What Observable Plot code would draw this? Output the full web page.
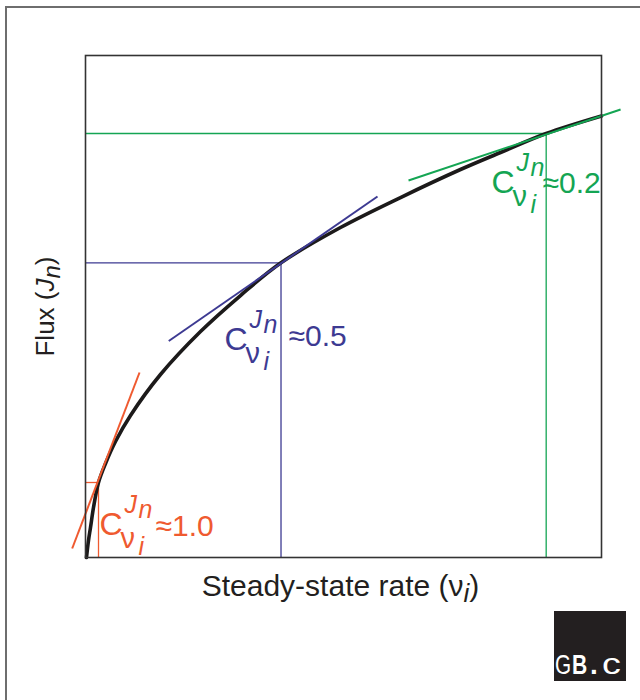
<!DOCTYPE html>
<html><head><meta charset="utf-8">
<script src="https://cdn.jsdelivr.net/npm/d3@7"></script>
<script src="https://cdn.jsdelivr.net/npm/@observablehq/plot@0.6"></script>
<style>
body{margin:0;background:#fff;}
#wrap{position:relative;width:640px;height:700px;overflow:hidden;font-family:"Liberation Sans",Arial,sans-serif;background:#fff;}
#chart{position:absolute;left:0;top:0;}
#border{position:absolute;left:5px;top:6px;width:700px;height:800px;border-left:2px solid #6e6e6e;border-top:2px solid #6e6e6e;pointer-events:none;}
#logo{position:absolute;left:554px;top:611px;width:72px;height:70px;background:#231f20;color:#fff;overflow:hidden;}
#logo span{position:absolute;bottom:2px;line-height:1;font-family:"Liberation Sans",Arial,sans-serif;white-space:nowrap;transform-origin:left bottom;}
</style></head>
<body>
<div id="wrap"><div id="chart"></div><div id="border"></div>
<div id="logo"><span style="left:1px;font-size:28px;transform:scaleX(0.74);">G</span><span style="left:18px;font-size:27px;font-weight:bold;transform:scaleX(0.78);">B</span><span style="left:36px;font-size:28px;font-weight:bold;">.</span><span style="left:48px;font-size:29px;transform:scaleX(1.3);">c</span></div></div>
<script>
// Flux curve J(v), in arbitrary units
const curveV = [0.19, 0.58, 0.97, 1.55, 2.52, 3.88, 5.81, 8.72, 14.53, 22.29, 30.04, 37.89, 49.42, 61.05, 72.67, 80.43, 89.28, 100];
const curveJ = [0, 3.39, 5.98, 9.96, 14.94, 18.73, 23.11, 28.29, 36.45, 45.02, 52.19, 58.71, 65.74, 71.71, 77.29, 80.68, 84.46, 87.95];

// Three operating points with their tangents and control coefficients
const seriesNames = ["low", "mid", "high"];
const pointV = [2.52, 37.89, 89.28];
const pointJ = [14.94, 58.71, 84.46];
const tangentV1 = [-2.58, 16.14, 62.6];
const tangentJ1 = [1.79, 43.13, 75.1];
const tangentV2 = [10.47, 56.59, 103.7];
const tangentJ2 = [36.85, 71.91, 89.24];
const controlValues = ["≈1.0", "≈0.5", "≈0.2"];
// annotation anchors (data units)
const labelV = [2.91, 27.13, 78.88];
const labelJ = [4.58, 41.43, 72.51];
const valueV = [13.57, 39.34, 88.57];
const valueJ = [4.38, 42.23, 72.51];

const xTitle = "Steady-state rate (νi)";
const yTitle = "Flux (Jn)";

const colors = {low: "#ef5a30", mid: "#3d3a92", high: "#14a553"};

const curve = curveV.map((v, i) => ({v, J: curveJ[i]}));
const pts = seriesNames.map((s, i) => ({
  s, color: colors[s], v: pointV[i], J: pointJ[i],
  tv1: tangentV1[i], tj1: tangentJ1[i], tv2: tangentV2[i], tj2: tangentJ2[i],
  value: controlValues[i], lv: labelV[i], lj: labelJ[i], vv: valueV[i], vj: valueJ[i]
}));

const T = (txt, opts) => Plot.text(pts, {x: "lv", y: "lj", text: () => txt, fill: "color", textAnchor: "start", lineAnchor: "bottom", ...opts});

const chart = Plot.plot({
  width: 640, height: 700,
  marginLeft: 85, marginRight: 39, marginTop: 55, marginBottom: 143,
  x: {domain: [0, 100], axis: null},
  y: {domain: [0, 100], axis: null},
  color: {type: "identity"},
  style: {fontFamily: "'Liberation Sans', Arial, sans-serif", background: "transparent"},
  marks: [
    Plot.ruleY(pts, {y: "J", x1: 0, x2: "v", stroke: "color", strokeWidth: 1.3}),
    Plot.ruleX(pts, {x: "v", y1: 0, y2: "J", stroke: "color", strokeWidth: 1.3}),
    Plot.line(curve, {x: "v", y: "J", curve: "catmull-rom", stroke: "#1c1a1a", strokeWidth: 3.6}),
    Plot.link(pts, {x1: "tv1", y1: "tj1", x2: "tv2", y2: "tj2", stroke: "color", strokeWidth: 2}),
    Plot.frame({stroke: "#333", strokeWidth: 1.6}),
    T("C", {fontSize: 32, dx: -1}),
    T("J", {fontSize: 25, fontStyle: "italic", dx: 24, dy: -22}),
    T("n", {fontSize: 25, fontStyle: "italic", dx: 38, dy: -17}),
    T("ν", {fontSize: 29, dx: 20, dy: 13}),
    T("i", {fontSize: 25, fontStyle: "italic", dx: 38, dy: 20}),
    Plot.text(pts, {x: "vv", y: "vj", text: "value", fill: "color", fontSize: 30, textAnchor: "start", lineAnchor: "bottom"}),
    Plot.text([xTitle], {frameAnchor: "bottom", text: d => d, dx: -3, dy: 38, textAnchor: "middle", lineAnchor: "bottom", fontSize: 30, fill: "#231f20"}),
    Plot.text([yTitle], {frameAnchor: "left", text: d => d, rotate: -90, dx: -32, textAnchor: "middle", lineAnchor: "bottom", fontSize: 26, fill: "#231f20"})
  ]
});

function rich(svg, plain, parts) {
  d3.select(svg).selectAll("text").filter(function() { return this.textContent === plain; }).each(function() {
    const t = d3.select(this);
    t.text(null);
    parts.forEach(p => {
      const s = t.append("tspan").text(p.t);
      if (p.it) s.attr("font-style", "italic");
      if (p.dy) s.attr("dy", p.dy);
      if (p.fs) s.attr("font-size", p.fs);
    });
  });
}
rich(chart, xTitle, [{t: "Steady-state rate (ν"}, {t: "i", it: true, dy: 6, fs: 26}, {t: ")", dy: -6}]);
rich(chart, yTitle, [{t: "Flux ("}, {t: "J", it: true}, {t: "n", it: true, dy: 6, fs: 24}, {t: ")", dy: -6}]);

document.getElementById("chart").appendChild(chart);
</script>
</body></html>
